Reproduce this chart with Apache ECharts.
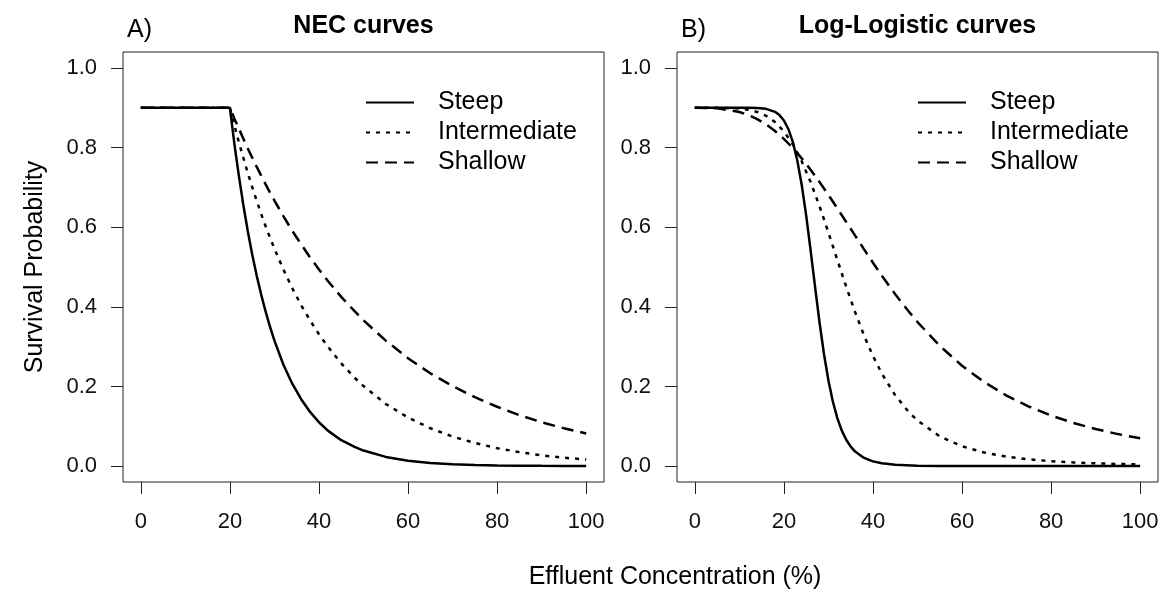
<!DOCTYPE html>
<html>
<head>
<meta charset="utf-8">
<script src="https://cdn.jsdelivr.net/npm/echarts@6/dist/echarts.min.js"></script>
<style>
html,body{margin:0;padding:0;background:#fff;}
#chart{width:1176px;height:589px;}
</style>
</head>
<body>
<div id="chart"></div>
<script>
// ---- data ----
var seriesNames = ['Steep', 'Intermediate', 'Shallow'];
var xTicks = [0, 20, 40, 60, 80, 100];
var yTicks = [0, 0.2, 0.4, 0.6, 0.8, 1.0];

// Panel A: NEC curves
var necX = [0,20,21,22,23,24,25,26,27,28,29,30,32,34,36,38,40,42,45,48,50,55,60,65,70,75,80,85,90,95,100];
var necSteep = [0.9,0.9,0.81,0.73,0.657,0.591,0.532,0.479,0.432,0.389,0.35,0.315,0.255,0.207,0.168,0.136,0.11,0.089,0.065,0.048,0.039,0.023,0.0135,0.008,0.0047,0.0028,0.0017,0.001,0.0006,0.0004,0.0002];
var necIntermediate = [0.9,0.9,0.856,0.814,0.775,0.737,0.701,0.667,0.634,0.603,0.574,0.546,0.494,0.447,0.404,0.366,0.331,0.3,0.258,0.222,0.201,0.156,0.122,0.095,0.074,0.058,0.045,0.035,0.027,0.021,0.0165];
var necShallow = [0.9,0.9,0.873,0.848,0.823,0.798,0.775,0.752,0.73,0.708,0.687,0.667,0.628,0.591,0.557,0.524,0.494,0.465,0.425,0.389,0.366,0.315,0.271,0.233,0.201,0.173,0.149,0.128,0.11,0.095,0.082];

// Panel B: Log-Logistic curves
var llSteepX = [0,5,10,12,14,16,18,19,20,21,22,23,24,25,26,27,28,29,30,31,32,33,34,35,36,38,40,42,45,50,55,60,70,80,90,100];
var llSteep = [0.9,0.9,0.9,0.8999,0.8993,0.8972,0.8897,0.8815,0.868,0.8467,0.8144,0.7683,0.7065,0.6298,0.542,0.45,0.3612,0.2816,0.2149,0.1615,0.1203,0.0891,0.066,0.049,0.0365,0.0205,0.0118,0.0069,0.0033,0.001,0.0004,0.0001,0,0,0,0];
var llX = [0,5,10,12,14,16,18,20,22,24,26,28,30,32,34,36,38,40,42,45,48,50,55,60,65,70,75,80,85,90,95,100];
var llIntermediate = [0.9,0.9,0.898,0.8951,0.8895,0.8797,0.8641,0.8408,0.8083,0.7657,0.7134,0.6528,0.5864,0.5178,0.45,0.3863,0.328,0.2766,0.2322,0.1778,0.1362,0.1143,0.0746,0.0497,0.0339,0.0237,0.0169,0.0123,0.0091,0.0069,0.0053,0.0041];
var llShallow = [0.9,0.8987,0.8894,0.8818,0.8715,0.8581,0.8416,0.8218,0.7988,0.7728,0.7443,0.7135,0.6811,0.6475,0.6131,0.5787,0.5444,0.5108,0.4782,0.4317,0.3886,0.3618,0.302,0.2521,0.2108,0.1771,0.1495,0.1269,0.1083,0.093,0.0803,0.0698];

var panelTitles = ['NEC curves', 'Log-Logistic curves'];
var panelTags = ['A)', 'B)'];
var xAxisTitle = 'Effluent Concentration (%)';
var yAxisTitle = 'Survival Probability';

// ---- chart ----
var FONT = "'Liberation Sans', Arial, Helvetica, sans-serif";
var lineTypes = ['solid', [4, 6], [12, 7]];
var LW = 2.5;

function pairs(xs, ys) { return xs.map(function (x, i) { return [x, ys[i]]; }); }

var grids = [
  { left: 123, top: 52, width: 481, height: 430 },
  { left: 677, top: 52, width: 481, height: 430 }
];

function xAxisFor(i) {
  return {
    gridIndex: i, type: 'value', min: -4, max: 104, position: 'bottom',
    axisLine: { show: false, onZero: false }, splitLine: { show: false },
    axisTick: { show: true, inside: false, length: 12, customValues: xTicks, lineStyle: { color: '#222', width: 1 } },
    axisLabel: { customValues: xTicks, margin: 29, fontSize: 22, color: '#111', fontFamily: FONT }
  };
}
function yAxisFor(i) {
  return {
    gridIndex: i, type: 'value', min: -0.04, max: 1.04, position: 'left',
    axisLine: { show: false, onZero: false }, splitLine: { show: false },
    axisTick: { show: true, inside: false, length: 12, customValues: yTicks, lineStyle: { color: '#222', width: 1 } },
    axisLabel: { customValues: yTicks, margin: 26, fontSize: 22, color: '#111', fontFamily: FONT,
      formatter: function (v) { return v.toFixed(1); } }
  };
}

var panelData = [
  [pairs(necX, necSteep), pairs(necX, necIntermediate), pairs(necX, necShallow)],
  [pairs(llSteepX, llSteep), pairs(llX, llIntermediate), pairs(llX, llShallow)]
];

var series = [];
for (var p = 0; p < 2; p++) {
  for (var s = 0; s < 3; s++) {
    series.push({
      name: seriesNames[s], type: 'line', xAxisIndex: p, yAxisIndex: p,
      data: panelData[p][s], symbol: 'none', showSymbol: false, smooth: false,
      lineStyle: { color: '#000', width: LW, type: lineTypes[s], cap: 'butt' },
      itemStyle: { color: '#000' }, silent: true, z: 3
    });
  }
}

function legendFor(left) {
  return {
    left: left, top: 85, orient: 'vertical', itemWidth: 48, itemHeight: 25, itemGap: 5,
    data: seriesNames, selectedMode: false, padding: 5,
    itemStyle: { opacity: 0, borderWidth: 0 },
    lineStyle: { opacity: 1 },
    formatter: function (n) { return '{t|' + n + '}'; },
    textStyle: { color: '#000', fontFamily: FONT, fontSize: 25,
      rich: { t: { fontSize: 25, fontFamily: FONT, color: '#000', padding: [0, 0, 0, 19], lineHeight: 25 } } }
  };
}

var graphics = [
  { type: 'text', x: 363.5, y: 26, style: { text: panelTitles[0], font: "bold 25px " + FONT, fill: '#000', textAlign: 'center', textVerticalAlign: 'middle' } },
  { type: 'text', x: 917.5, y: 26, style: { text: panelTitles[1], font: "bold 25px " + FONT, fill: '#000', textAlign: 'center', textVerticalAlign: 'middle' } },
  { type: 'text', x: 127, y: 30, style: { text: panelTags[0], font: "25px " + FONT, fill: '#000', textAlign: 'left', textVerticalAlign: 'middle' } },
  { type: 'text', x: 681, y: 30, style: { text: panelTags[1], font: "25px " + FONT, fill: '#000', textAlign: 'left', textVerticalAlign: 'middle' } },
  { type: 'text', x: 675, y: 577, style: { text: xAxisTitle, font: "25px " + FONT, fill: '#000', textAlign: 'center', textVerticalAlign: 'middle' } },
  { type: 'text', x: 35, y: 267, rotation: Math.PI / 2, style: { text: yAxisTitle, font: "25px " + FONT, fill: '#000', textAlign: 'center', textVerticalAlign: 'middle' } }
];

var chart = echarts.init(document.getElementById('chart'), null, { renderer: 'canvas' });
chart.setOption({
  backgroundColor: '#fff',
  animation: false,
  textStyle: { fontFamily: FONT },
  grid: grids.map(function (g) { return Object.assign({ show: true, borderColor: '#222', borderWidth: 1, backgroundColor: 'transparent', containLabel: false }, g); }),
  xAxis: [xAxisFor(0), xAxisFor(1)],
  yAxis: [yAxisFor(0), yAxisFor(1)],
  legend: [legendFor(360), legendFor(912)],
  series: series,
  graphic: graphics
});
</script>
</body>
</html>
